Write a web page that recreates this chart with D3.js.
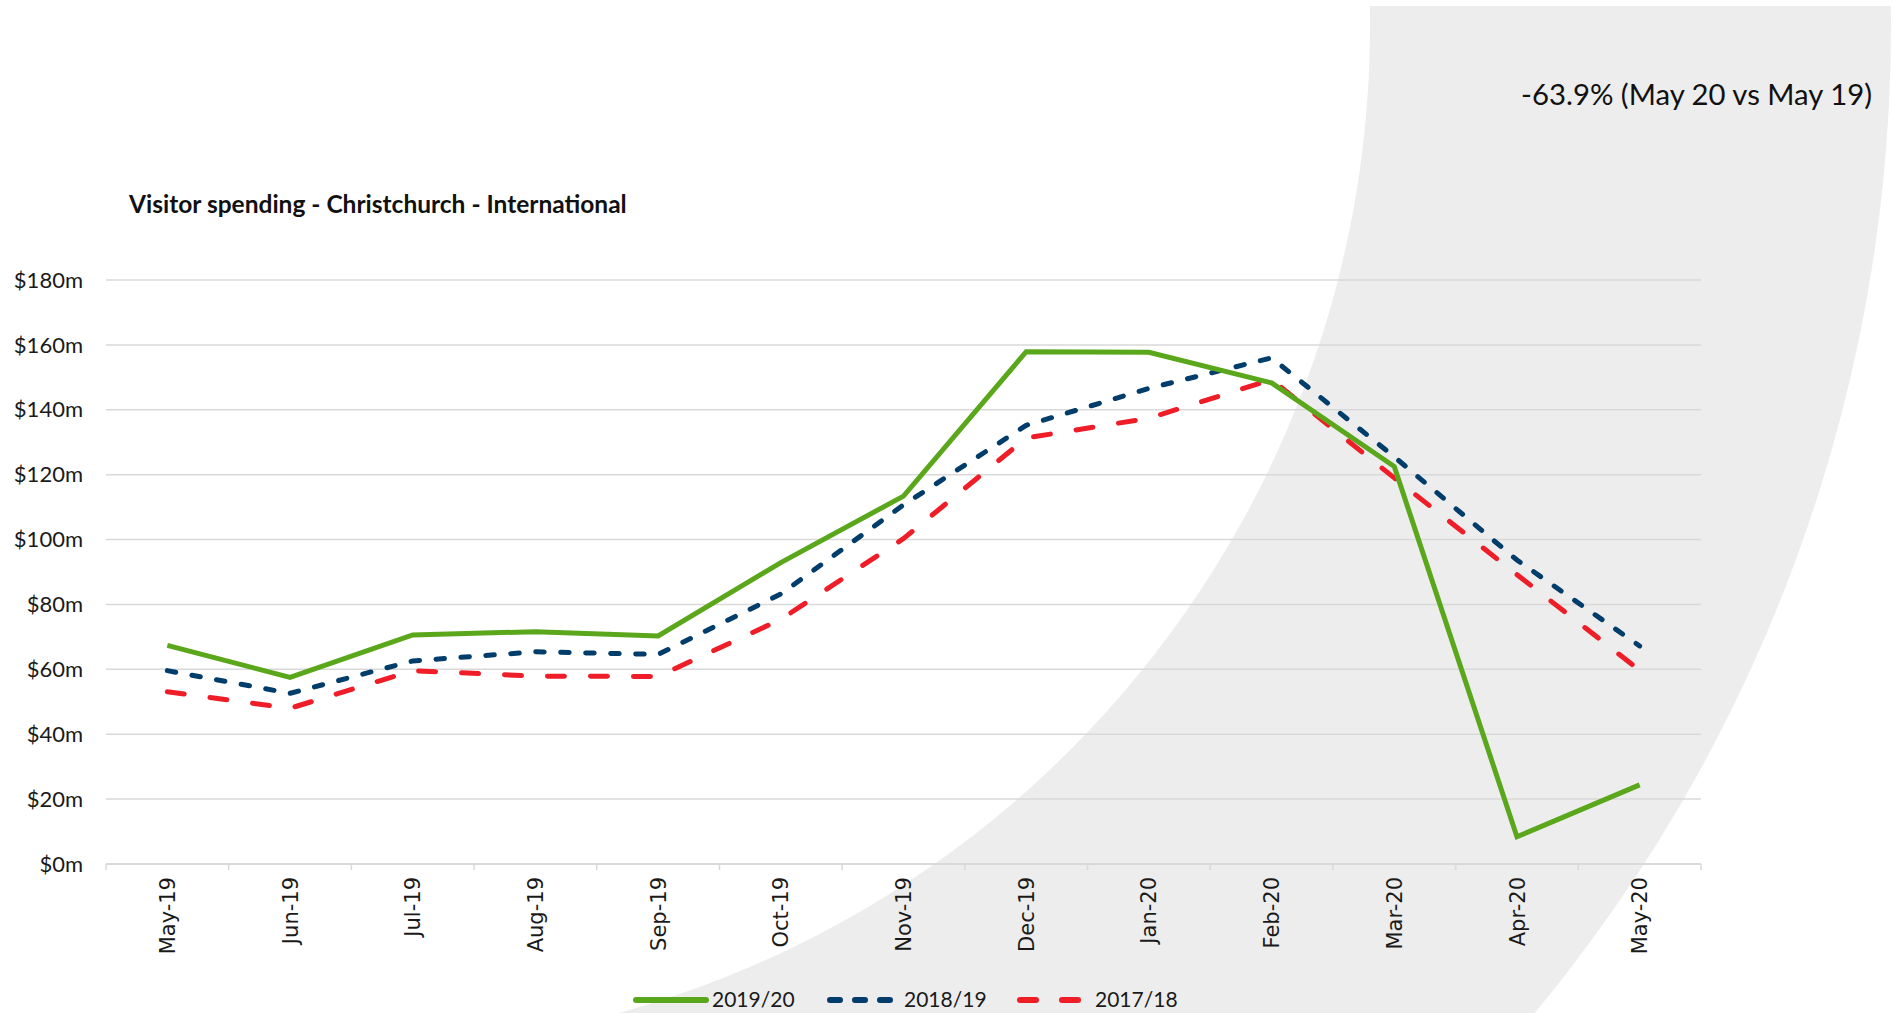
<!DOCTYPE html>
<html>
<head>
<meta charset="utf-8">
<script src="https://cdn.jsdelivr.net/npm/d3@7"></script>
<style>
  html, body { margin: 0; padding: 0; background: #fff; }
  svg { display: block; }
</style>
</head>
<body>
<svg width="1893" height="1013"></svg>
<script>
// data ($m)
const months = ["May-19", "Jun-19", "Jul-19", "Aug-19", "Sep-19", "Oct-19", "Nov-19",
                "Dec-19", "Jan-20", "Feb-20", "Mar-20", "Apr-20", "May-20"];
const spend2019 = [67.4, 57.5, 70.6, 71.6, 70.3, 92.9, 113.4, 157.9, 157.7, 148.3, 122.5, 8.4, 24.4];
const spend2018 = [59.6, 52.6, 62.6, 65.4, 64.6, 83.2, 110.7, 135.2, 146.6, 156.0, 125.5, 93.7, 67.2];
const spend2017 = [53.1, 48.0, 59.6, 57.9, 57.8, 75.4, 100.3, 131.3, 137.4, 149.3, 119.0, 89.2, 59.7];
const yTicks = [0, 20, 40, 60, 80, 100, 120, 140, 160, 180];
const seriesNames = ["2019/20", "2018/19", "2017/18"];

const series = [
    { name: seriesNames[0], values: spend2019, color: "#5ba71b", dash: null },
    { name: seriesNames[1], values: spend2018, color: "#003d6b", dash: "8.5,16.5" },
    { name: seriesNames[2], values: spend2017, color: "#ee1d27", dash: "17,26" }
];

const svg = d3.select("svg");
const W = 1893, H = 1013;

svg.append("rect").attr("width", W).attr("height", H).attr("fill", "#fff");

// grey arc band behind everything (clip lives in page coords on the wrapper g)
svg.append("clipPath").attr("id", "bgclip")
    .append("rect").attr("x", 0).attr("y", 6).attr("width", W).attr("height", H);

svg.append("g")
    .attr("clip-path", "url(#bgclip)")
    .append("path")
    .attr("transform", "translate(346,26)")
    .attr("fill", "#ededed")
    .attr("d", d3.arc()({ innerRadius: 1024, outerRadius: 1545, startAngle: -0.1, endAngle: Math.PI }));

const plotL = 106, plotR = 1701, plotT = 280, plotB = 864;

const x = d3.scalePoint().domain(months).range([plotL, plotR]).padding(0.5);
const y = d3.scaleLinear().domain([0, 180]).range([plotB, plotT]);
const step = x.step();

// gridlines
svg.append("g")
    .selectAll("line")
    .data(yTicks.filter(d => d > 0))
    .enter()
    .append("line")
    .attr("x1", plotL).attr("x2", plotR)
    .attr("y1", d => y(d)).attr("y2", d => y(d))
    .attr("stroke", "#d9d9d9")
    .attr("stroke-width", 1.5);

// y labels
svg.append("g")
    .selectAll("text")
    .data(yTicks)
    .enter()
    .append("text")
    .attr("x", 83)
    .attr("y", d => y(d))
    .attr("dy", "0.35em")
    .attr("text-anchor", "end")
    .attr("font-family", "Lato, 'Open Sans', sans-serif")
    .attr("font-size", 22)
    .attr("fill", "#1a1a1a")
    .text(d => "$" + d + "m");

// x axis line + tick marks at band boundaries
const xAxis = svg.append("g");
xAxis.append("line")
    .attr("x1", plotL).attr("x2", plotR)
    .attr("y1", plotB).attr("y2", plotB)
    .attr("stroke", "#d9d9d9").attr("stroke-width", 2);

xAxis.selectAll("line.tick")
    .data(d3.range(months.length + 1))
    .enter()
    .append("line")
    .attr("class", "tick")
    .attr("x1", i => plotL + i * step).attr("x2", i => plotL + i * step)
    .attr("y1", plotB).attr("y2", plotB + 6)
    .attr("stroke", "#d9d9d9").attr("stroke-width", 1.5);

xAxis.selectAll("text")
    .data(months)
    .enter()
    .append("text")
    .attr("transform", d => `translate(${x(d)},877) rotate(-90)`)
    .attr("dy", "0.36em")
    .attr("text-anchor", "end")
    .attr("font-family", "'DejaVu Sans', Verdana, sans-serif")
    .attr("font-size", 21)
    .attr("fill", "#1a1a1a")
    .text(d => d);

// lines, drawn back to front
const line = d3.line()
    .x((d, i) => x(months[i]))
    .y(d => y(d));

svg.append("g")
    .selectAll("path")
    .data(series.slice().reverse())
    .enter()
    .append("path")
    .attr("d", d => line(d.values))
    .attr("fill", "none")
    .attr("stroke", d => d.color)
    .attr("stroke-width", 5)
    .attr("stroke-linecap", d => d.dash ? "round" : "butt")
    .attr("stroke-linejoin", "miter")
    .attr("stroke-dasharray", d => d.dash);

// title + annotation
svg.append("text")
    .attr("x", 129).attr("y", 213)
    .attr("font-family", "Lato, 'Open Sans', sans-serif")
    .attr("font-weight", "bold")
    .attr("font-size", 24.5)
    .attr("fill", "#111")
    .text("Visitor spending - Christchurch - International");

svg.append("text")
    .attr("x", 1872).attr("y", 105)
    .attr("text-anchor", "end")
    .attr("font-family", "Lato, 'Open Sans', sans-serif")
    .attr("font-size", 29.3)
    .attr("fill", "#111")
    .text("-63.9% (May 20 vs May 19)");

// legend
const legendItems = [
    { s: series[0], x1: 636, x2: 706, tx: 712, dash: null },
    { s: series[1], x1: 830, x2: 891, tx: 904, dash: "10,15" },
    { s: series[2], x1: 1020, x2: 1080, tx: 1095, dash: "16,26" }
];
const legend = svg.append("g");
legendItems.forEach(it => {
    legend.append("line")
        .attr("x1", it.x1).attr("x2", it.x2)
        .attr("y1", 1000).attr("y2", 1000)
        .attr("stroke", it.s.color)
        .attr("stroke-width", 6)
        .attr("stroke-linecap", "round")
        .attr("stroke-dasharray", it.dash);
    legend.append("text")
        .attr("x", it.tx).attr("y", 1000)
        .attr("dy", "0.35em")
        .attr("font-family", "Lato, 'Open Sans', sans-serif")
        .attr("font-size", 21)
        .attr("fill", "#1a1a1a")
        .text(it.s.name);
});
</script>
</body>
</html>
